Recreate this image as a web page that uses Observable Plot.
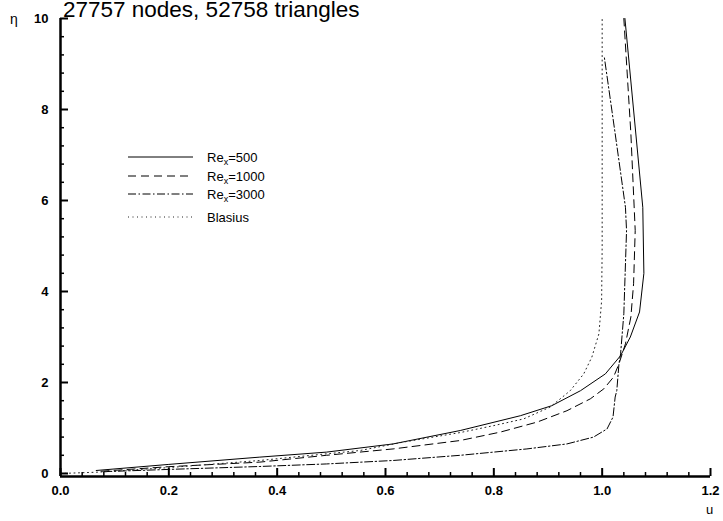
<!DOCTYPE html>
<html><head><meta charset="utf-8">
<script src="https://cdn.jsdelivr.net/npm/d3@7"></script>
<script src="https://cdn.jsdelivr.net/npm/@observablehq/plot@0.6"></script>
<style>body{margin:0;background:#fff} svg{font-family:"Liberation Sans",Arial,sans-serif}</style>
</head><body><div id="chart"></div>
<script>
const titleText = "27757 nodes, 52758 triangles";
const seriesNames = ["Re500", "Re1000", "Re3000", "Blasius"];
const legendMain = ["Re", "Re", "Re", "Blasius"];
const legendSub = ["x", "x", "x", ""];
const legendTail = ["=500", "=1000", "=3000", ""];

const uRe500   = [0.066, 0.20, 0.368, 0.491, 0.614, 0.738, 0.849, 0.907, 0.960, 1.006, 1.034, 1.052, 1.069, 1.077, 1.075, 1.042];
const etaRe500 = [0.066, 0.20, 0.36, 0.47, 0.65, 0.945, 1.27, 1.49, 1.82, 2.19, 2.59, 3.0, 3.55, 4.40, 5.85, 10];

const uRe1000   = [0.075, 0.20, 0.368, 0.491, 0.614, 0.738, 0.812, 0.880, 0.935, 0.978, 1.003, 1.021, 1.031, 1.043, 1.053, 1.058, 1.061, 1.053, 1.040];
const etaRe1000 = [0.05, 0.15, 0.25, 0.40, 0.54, 0.725, 0.91, 1.13, 1.38, 1.64, 1.86, 2.12, 2.41, 2.85, 3.44, 4.17, 5.34, 7.47, 10];

const uRe3000   = [0.08, 0.20, 0.368, 0.491, 0.614, 0.738, 0.861, 0.935, 0.984, 1.009, 1.020, 1.024, 1.027, 1.031, 1.034, 1.040, 1.045, 1.043, 1.024, 1.004];
const etaRe3000 = [0.04, 0.09, 0.154, 0.21, 0.286, 0.40, 0.54, 0.65, 0.80, 0.98, 1.24, 1.68, 1.82, 2.41, 2.63, 3.51, 5.34, 5.85, 7.47, 9.15];

const uBlasius   = [0, 0.07, 0.20, 0.368, 0.430, 0.553, 0.633, 0.738, 0.799, 0.855, 0.904, 0.941, 0.966, 0.981, 0.994, 0.999, 1.0, 1.0];
const etaBlasius = [0, 0.03, 0.13, 0.286, 0.36, 0.505, 0.69, 0.90, 1.05, 1.20, 1.46, 1.82, 2.19, 2.56, 3.07, 3.8, 5.0, 10];

const xMajor = [0, 0.2, 0.4, 0.6, 0.8, 1.0, 1.2];
const xTickLabels = ["0.0", "0.2", "0.4", "0.6", "0.8", "1.0", "1.2"];
const xMinor = [0.04,0.08,0.12,0.16,0.24,0.28,0.32,0.36,0.44,0.48,0.52,0.56,0.64,0.68,0.72,0.76,0.84,0.88,0.92,0.96,1.04,1.08,1.12,1.16];
const yMajor = [0, 2, 4, 6, 8, 10];
const yTickLabels = ["0", "2", "4", "6", "8", "10"];
const yMinor = [0.4,0.8,1.2,1.6,2.4,2.8,3.2,3.6,4.4,4.8,5.2,5.6,6.4,6.8,7.2,7.6,8.4,8.8,9.2,9.6];
const xLabel = "u";
const yLabel = "η";

const dashes = {Re500: null, Re1000: "8,5", Re3000: "8,2.5,1.5,2.5", Blasius: "1,3.5"};
const yMin = -0.066;

const toRows = (us, etas) => us.map((u, i) => ({u, eta: etas[i]}));
const rows = {
  Re500: toRows(uRe500, etaRe500),
  Re1000: toRows(uRe1000, etaRe1000),
  Re3000: toRows(uRe3000, etaRe3000),
  Blasius: toRows(uBlasius, etaBlasius)
};

const chart = Plot.plot({
  width: 723, height: 521,
  marginLeft: 60, marginRight: 13, marginTop: 18, marginBottom: 45,
  x: {domain: [0, 1.2]},
  y: {domain: [yMin, 10]},
  style: {fontFamily: '"Liberation Sans", Arial, sans-serif', background: "white", color: "black", overflow: "visible"},
  marks: [
    ...seriesNames.map(s => Plot.line(rows[s], {x: "u", y: "eta", stroke: s === "Blasius" ? "#222" : "black", strokeWidth: 1, strokeDasharray: dashes[s]})),
    Plot.axisX(xMinor, {tickSize: -4, tickFormat: () => "", strokeWidth: 1.5, label: null}),
    Plot.axisX(xMajor, {tickSize: -8, tickFormat: () => "", strokeWidth: 2, label: null}),
    Plot.axisX(xMajor, {tickSize: 0, tickPadding: 9, tickFormat: d => xTickLabels[xMajor.indexOf(d)], fontSize: 13, fontWeight: "bold", label: null}),
    Plot.axisY(yMinor, {tickSize: -4, tickFormat: () => "", strokeWidth: 1.5, label: null}),
    Plot.axisY(yMajor, {tickSize: -8, tickFormat: () => "", strokeWidth: 2, label: null}),
    Plot.axisY(yMajor, {tickSize: 0, tickPadding: 12, tickFormat: d => yTickLabels[yMajor.indexOf(d)], fontSize: 13, fontWeight: "bold", label: null}),
    Plot.ruleX([0], {strokeWidth: 2.5}),
    Plot.ruleY([yMin], {strokeWidth: 2.5})
  ]
});
document.getElementById("chart").appendChild(chart);

const svg = d3.select(chart);
const addText = (x, y, size, str) => svg.append("text").attr("x", x).attr("y", y)
  .attr("font-size", size).attr("text-anchor", "start").attr("fill", "black")
  .style("font-size", size + "px").text(str);
addText(63, 17, 22.5, titleText);
addText(10, 24, 14, yLabel);
addText(706, 514, 13, xLabel);

const legendY = [157, 176, 194, 217];
const lg = svg.append("g").attr("text-anchor", "start");
seriesNames.forEach((s, i) => {
  lg.append("line").attr("x1", 128).attr("x2", 193).attr("y1", legendY[i]).attr("y2", legendY[i])
    .attr("stroke", s === "Blasius" ? "#222" : "black").attr("stroke-width", 1)
    .attr("stroke-dasharray", dashes[s]);
  const t = lg.append("text").attr("x", 207).attr("y", legendY[i] + 4.5).attr("text-anchor", "start")
    .style("font-size", "13px").attr("fill", "black");
  t.append("tspan").text(legendMain[i]);
  if (legendSub[i]) {
    t.append("tspan").style("font-size", "9px").attr("dy", 3).text(legendSub[i]);
    t.append("tspan").attr("dy", -3).text(legendTail[i]);
  }
});
</script></body></html>
